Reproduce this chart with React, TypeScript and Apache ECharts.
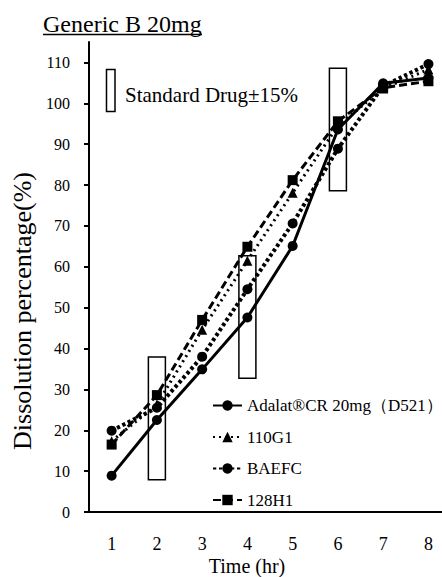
import React, { useEffect, useRef } from "react";
import * as echarts from "echarts";

const chartTitle = "Generic B 20mg";
const yAxisTitle = "Dissolution percentage(%)";
const xAxisTitle = "Time (hr)";
const stdLabel = "Standard Drug±15%";

const times = [1, 2, 3, 4, 5, 6, 7, 8];
const xTicks = [1, 2, 3, 4, 5, 6, 7, 8];
const yTicks = [0, 10, 20, 30, 40, 50, 60, 70, 80, 90, 100, 110];

const seriesNames = ["Adalat®CR 20mg（D521）", "110G1", "BAEFC", "128H1"];
const adalat = [8.9, 22.5, 34.9, 47.6, 65.1, 93.6, 104.9, 106.2];
const g110 = [17.3, 26.3, 44.6, 61.5, 78.1, 94.5, 103.6, 108.3];
const baefc = [19.9, 25.5, 38.0, 54.5, 70.6, 88.9, 104.2, 109.6];
const h128 = [16.5, 28.6, 47.0, 64.9, 81.2, 95.6, 103.8, 105.4];

const stdTimes = [2, 4, 6];
const stdCenters = [22.9, 47.7, 93.6];
const stdTolerance = 15;

const FONT = "Liberation Serif, serif";

export default function App() {
  const ref = useRef<HTMLDivElement>(null);

  useEffect(() => {
    if (!ref.current) return;
    const chart = echarts.init(ref.current, undefined, { renderer: "svg" });

    const pairs = (vals: number[]) => times.map((t, i) => [t, vals[i]]);
    const boxData = stdTimes.map((t, i) => [t, stdCenters[i] - stdTolerance, stdCenters[i] + stdTolerance]);

    const lineSeries = (name: string, vals: number[], symbol: string, type: any, width: number, z: number) => ({
      type: "line",
      name,
      data: pairs(vals),
      symbol,
      symbolSize: 10,
      z,
      itemStyle: { color: "#000" },
      lineStyle: { color: "#000", width, type },
    });

    chart.setOption({
      animation: false,
      backgroundColor: "#fff",
      textStyle: { fontFamily: FONT, color: "#000" },
      grid: { left: 89, right: 0, top: 42, bottom: 65, containLabel: false },
      xAxis: {
        type: "value",
        min: 0.5,
        max: 8.3,
        axisLine: { show: true, onZero: false, lineStyle: { color: "#000", width: 2 } },
        axisTick: { show: false },
        splitLine: { show: false },
        axisLabel: {
          customValues: xTicks,
          fontSize: 18,
          fontFamily: FONT,
          color: "#000",
          margin: 23,
        },
      },
      yAxis: {
        type: "value",
        min: 0,
        max: 115,
        axisLine: { show: true, lineStyle: { color: "#000", width: 2 } },
        axisTick: { show: true, customValues: yTicks, length: 5, lineStyle: { color: "#000", width: 2 } },
        splitLine: { show: false },
        axisLabel: {
          customValues: yTicks,
          fontSize: 16,
          fontFamily: FONT,
          color: "#000",
          margin: 19,
        },
      },
      legend: {
        orient: "vertical",
        left: 212,
        top: 397,
        padding: 0,
        itemWidth: 29,
        itemHeight: 13,
        itemGap: 14.5,
        data: seriesNames,
        textStyle: { fontSize: 17, fontFamily: FONT, color: "#000", padding: [0, 0, 0, 0] },
      },
      graphic: [
        {
          type: "text",
          x: 43,
          y: 24,
          style: { text: chartTitle, fontSize: 24, fontFamily: FONT, fill: "#000", align: "left", verticalAlign: "middle" },
        },
        {
          type: "line",
          shape: { x1: 43, y1: 34.5, x2: 202, y2: 34.5 },
          style: { stroke: "#000", lineWidth: 1.5 },
        },
        {
          type: "text",
          x: 22,
          y: 311,
          rotation: Math.PI / 2,
          style: { text: yAxisTitle, fontSize: 26, fontFamily: FONT, fill: "#000", align: "center", verticalAlign: "middle" },
        },
        {
          type: "text",
          x: 247,
          y: 566,
          style: { text: xAxisTitle, fontSize: 20, fontFamily: FONT, fill: "#000", align: "center", verticalAlign: "middle" },
        },
        {
          type: "rect",
          shape: { x: 106.5, y: 69.5, width: 8.5, height: 42 },
          style: { fill: "none", stroke: "#000", lineWidth: 1.5 },
        },
        {
          type: "text",
          x: 125,
          y: 95,
          style: { text: stdLabel, fontSize: 21, fontFamily: FONT, fill: "#000", align: "left", verticalAlign: "middle" },
        },
      ],
      series: [
        {
          type: "custom",
          name: "std",
          data: boxData,
          z: 1,
          renderItem: (_params: any, api: any) => {
            const x = api.value(0);
            const lo = api.value(1);
            const hi = api.value(2);
            const top = api.coord([x, hi]);
            const bot = api.coord([x, lo]);
            const w = 17;
            return {
              type: "rect",
              shape: { x: top[0] - w / 2, y: top[1], width: w, height: bot[1] - top[1] },
              style: { fill: "none", stroke: "#000", lineWidth: 1.5 },
            };
          },
        },
        lineSeries(seriesNames[3], h128, "rect", [8, 4], 3, 3),
        lineSeries(seriesNames[2], baefc, "circle", [3.3, 2.7], 4, 4),
        lineSeries(seriesNames[1], g110, "triangle", [2, 4], 3, 5),
        lineSeries(seriesNames[0], adalat, "circle", "solid", 3, 6),
      ],
    });

    return () => chart.dispose();
  }, []);

  return (
    <div
      ref={ref}
      style={{ position: "fixed", left: 0, top: 0, width: 442, height: 577, background: "#fff" }}
    />
  );
}
